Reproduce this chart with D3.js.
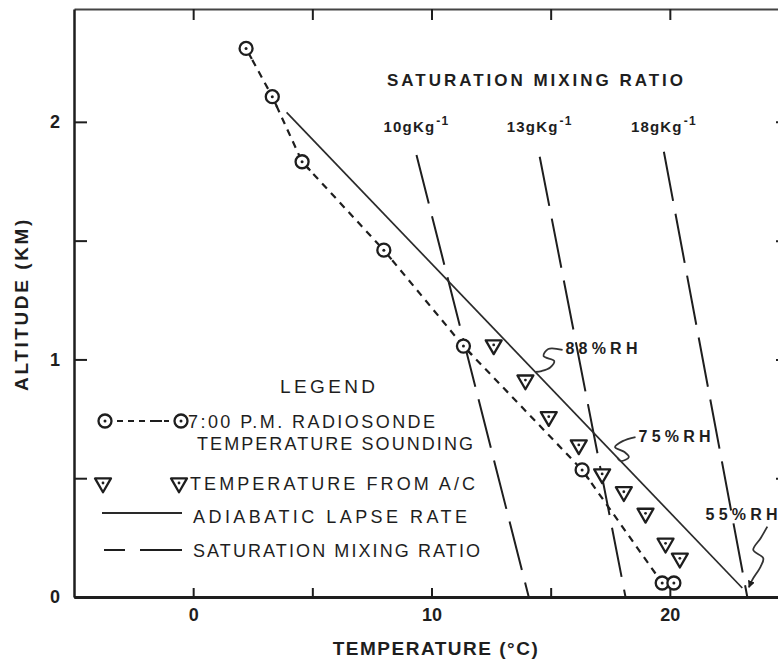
<!DOCTYPE html>
<html>
<head>
<meta charset="utf-8">
<script src="https://cdn.jsdelivr.net/npm/d3@7"></script>
<style>
body { margin: 0; background: #fff; }
svg { display: block; font-family: "Liberation Sans", Arial, sans-serif; }
</style>
</head>
<body>
<div id="chart"></div>
<script>
// 7:00 P.M. radiosonde temperature sounding (deg C, km)
var soundingTemp = [2.22, 3.32, 4.57, 8.00, 11.34, 16.32, 19.68, 20.17];
var soundingAlt  = [2.309, 2.106, 1.832, 1.460, 1.056, 0.535, 0.059, 0.059];

// Temperature from the aircraft (A/C)
var aircraftTemp = [12.61, 13.94, 14.92, 16.18, 17.16, 18.07, 18.98, 19.82, 20.42];
var aircraftAlt  = [1.061, 0.913, 0.759, 0.640, 0.518, 0.443, 0.352, 0.226, 0.163];

// Adiabatic lapse rate (end points)
var adiabatTemp = [3.92, 23.04];
var adiabatAlt  = [2.040, 0.038];

// Saturation mixing ratio lines, g/kg
var mixingValues     = ["10", "13", "18"];
var mixingTopTemp    = [9.37, 14.54, 19.75];
var mixingTopAlt     = [1.860, 1.853, 1.874];
var mixingBottomTemp = [14.08, 18.14, 23.25];

// Relative humidity notes: label and the squiggle leading to the lapse-rate line
var rhLabels    = ["88%RH", "75%RH", "55%RH"];
var rhLabelTemp = [15.62, 18.69, 21.50];
var rhLabelAlt  = [1.023, 0.652, 0.324];
var rhPathTemp  = [
    [15.50, 14.90, 14.70, 15.15, 14.98, 14.62, 14.36],
    [18.56, 18.02, 17.70, 18.10, 18.28, 17.95, 17.80],
    [24.09, 23.81, 23.50, 23.92, 23.81, 23.46, 23.32]
];
var rhPathAlt   = [
    [1.040, 1.044, 1.014, 0.993, 0.966, 0.951, 0.947],
    [0.673, 0.656, 0.631, 0.610, 0.589, 0.572, 0.585],
    [0.296, 0.247, 0.198, 0.163, 0.128, 0.072, 0.041]
];

// Axis ticks
var tempTicks = [0, 5, 10, 15, 20];
var altTicks  = [0, 0.5, 1, 1.5, 2];

var width = 778, height = 660;
var ink = "#1e1e1e";

var svg = d3.select("#chart").append("svg")
    .attr("width", width)
    .attr("height", height);
svg.append("rect").attr("width", width).attr("height", height).attr("fill", "#fff");

var x = d3.scaleLinear().domain([-5, 25]).range([74, 789]);
var y = d3.scaleLinear().domain([0, 2.475]).range([597, 9]);

// Axes: ticks point inward on all four sides.
var tempLabel = function(d) { return d % 10 === 0 ? d : ""; };
var altLabel = function(d) { return Number.isInteger(d) ? d : ""; };

var axisB = svg.append("g").attr("class", "axis x")
    .attr("transform", "translate(0," + y(0) + ")")
    .call(d3.axisBottom(x).tickValues(tempTicks).tickSizeInner(-9).tickSizeOuter(0)
        .tickPadding(11).tickFormat(tempLabel));
var axisT = svg.append("g").attr("class", "axis x top")
    .attr("transform", "translate(0," + y(2.475) + ")")
    .call(d3.axisTop(x).tickValues(tempTicks).tickSizeInner(-11).tickSizeOuter(0).tickFormat(""));
var axisL = svg.append("g").attr("class", "axis y")
    .attr("transform", "translate(" + x(-5) + ",0)")
    .call(d3.axisLeft(y).tickValues(altTicks).tickSizeInner(-13).tickSizeOuter(0)
        .tickPadding(14).tickFormat(altLabel));
var axisR = svg.append("g").attr("class", "axis y right")
    .attr("transform", "translate(" + x(25) + ",0)")
    .call(d3.axisRight(y).tickValues(altTicks.slice(1)).tickSizeInner(-13).tickSizeOuter(0).tickFormat(""));

svg.selectAll(".axis .domain").attr("stroke", ink).attr("stroke-width", 2.5);
axisB.select(".domain").attr("stroke-width", 3.2);
axisT.select(".domain").attr("stroke", "#444").attr("stroke-width", 2);
svg.selectAll(".axis .tick line").attr("stroke", ink).attr("stroke-width", 2);
svg.selectAll(".axis text")
    .attr("font-family", "'Liberation Sans', Arial, sans-serif")
    .attr("font-size", 18).attr("font-weight", "bold").attr("fill", ink);

// Axis titles
svg.append("text")
    .attr("x", 436).attr("y", 655)
    .attr("text-anchor", "middle")
    .attr("font-size", 19).attr("font-weight", "bold").attr("fill", ink)
    .attr("letter-spacing", 1.5)
    .text("TEMPERATURE (°C)");
svg.append("text")
    .attr("transform", "translate(28,304) rotate(-90)")
    .attr("text-anchor", "middle")
    .attr("font-size", 19).attr("font-weight", "bold").attr("fill", ink)
    .attr("letter-spacing", 2.6)
    .text("ALTITUDE (KM)");

var line = d3.line()
    .x(function(d) { return x(d.t); })
    .y(function(d) { return y(d.a); });

// Saturation mixing ratio lines
var mixing = mixingValues.map(function(v, i) {
    return { v: v, pts: [{t: mixingTopTemp[i], a: mixingTopAlt[i]}, {t: mixingBottomTemp[i], a: 0}] };
});
svg.append("g").selectAll("path").data(mixing).enter().append("path")
    .attr("d", function(d) { return line(d.pts); })
    .attr("fill", "none").attr("stroke", ink).attr("stroke-width", 2)
    .attr("stroke-dasharray", "50,13");

var mixLab = svg.append("g").selectAll("text").data(mixing).enter().append("text")
    .attr("x", function(d) { return x(d.pts[0].t) - 33; })
    .attr("y", 132)
    .attr("font-size", 15).attr("font-weight", "bold").attr("fill", ink)
    .attr("letter-spacing", 1.2);
mixLab.append("tspan").text(function(d) { return d.v + "gKg"; });
mixLab.append("tspan").attr("dy", -7).attr("dx", 1).attr("font-size", 12).text("-1");

svg.append("text")
    .attr("x", 387).attr("y", 86)
    .attr("font-size", 17).attr("font-weight", "bold").attr("fill", ink)
    .attr("textLength", 296).attr("lengthAdjust", "spacing")
    .text("SATURATION MIXING RATIO");

// Adiabatic lapse rate
var adiabat = adiabatTemp.map(function(t, i) { return {t: t, a: adiabatAlt[i]}; });
svg.append("path").datum(adiabat)
    .attr("d", line)
    .attr("fill", "none").attr("stroke", "#2a2a2a").attr("stroke-width", 1.7);

// Radiosonde sounding
var sounding = soundingTemp.map(function(t, i) { return {t: t, a: soundingAlt[i]}; });
svg.append("path").datum(sounding)
    .attr("d", line)
    .attr("fill", "none").attr("stroke", ink).attr("stroke-width", 2.2)
    .attr("stroke-dasharray", "7,6");

function drawCircleMark(g, cx, cy, tail) {
    if (tail) {
        g.append("line")
            .attr("x1", cx).attr("y1", cy)
            .attr("x2", cx + tail[0] * 12).attr("y2", cy + tail[1] * 12)
            .attr("stroke", ink).attr("stroke-width", 2.2);
    }
    g.append("circle").attr("cx", cx).attr("cy", cy).attr("r", 6.5)
        .attr("fill", "#fff").attr("stroke", ink).attr("stroke-width", 2.3);
    g.append("circle").attr("cx", cx).attr("cy", cy).attr("r", 1.5).attr("fill", ink);
}

var soundG = svg.append("g");
sounding.forEach(function(d, i) {
    var tail = null;
    var nxt = sounding[i + 1];
    if (nxt && i < sounding.length - 2) {
        var dx = x(nxt.t) - x(d.t), dy = y(nxt.a) - y(d.a);
        var len = Math.sqrt(dx * dx + dy * dy);
        tail = [dx / len, dy / len];
    }
    drawCircleMark(soundG, x(d.t), y(d.a), tail);
});

// Aircraft temperatures
var tri = d3.symbol().type(d3.symbolTriangle).size(110);
function drawTriangleMark(g, cx, cy) {
    g.append("path").attr("d", tri)
        .attr("transform", "translate(" + cx + "," + cy + ") rotate(180)")
        .attr("fill", "#fff").attr("stroke", ink).attr("stroke-width", 2.3)
        .attr("stroke-linejoin", "round");
    g.append("circle").attr("cx", cx).attr("cy", cy).attr("r", 1.4).attr("fill", ink);
}
var aircraft = aircraftTemp.map(function(t, i) { return {t: t, a: aircraftAlt[i]}; });
var airG = svg.append("g");
aircraft.forEach(function(d) { drawTriangleMark(airG, x(d.t), y(d.a)); });

// Relative humidity notes
svg.append("defs").append("marker")
    .attr("id", "arrow").attr("viewBox", "0 0 10 10")
    .attr("refX", 9).attr("refY", 5)
    .attr("markerWidth", 4).attr("markerHeight", 4)
    .attr("orient", "auto")
    .append("path").attr("d", "M0,0 L10,5 L0,10 Z").attr("fill", ink);

var squiggle = d3.line()
    .x(function(d) { return x(d.t); })
    .y(function(d) { return y(d.a); })
    .curve(d3.curveCatmullRom);

rhLabels.forEach(function(lab, i) {
    var pts = rhPathTemp[i].map(function(t, j) { return {t: t, a: rhPathAlt[i][j]}; });
    var p = svg.append("path").datum(pts)
        .attr("d", squiggle)
        .attr("fill", "none").attr("stroke", "#333").attr("stroke-width", 1.8);
    if (i === 2) p.attr("marker-end", "url(#arrow)");
    svg.append("text")
        .attr("x", x(rhLabelTemp[i])).attr("y", y(rhLabelAlt[i]))
        .attr("font-size", 16).attr("font-weight", "bold").attr("fill", ink)
        .attr("textLength", 72).attr("lengthAdjust", "spacing")
        .text(lab);
});

// Legend
var leg = svg.append("g").attr("class", "legend");
function legendText(tx, ty, len, str, size) {
    leg.append("text")
        .attr("x", tx).attr("y", ty)
        .attr("font-size", size || 18).attr("fill", ink)
        .attr("textLength", len).attr("lengthAdjust", "spacing")
        .text(str);
}
legendText(280, 393, 95, "LEGEND", 19);

leg.append("line").attr("x1", 110).attr("x2", 176).attr("y1", 421).attr("y2", 421)
    .attr("stroke", ink).attr("stroke-width", 2.2).attr("stroke-dasharray", "2,5,6,5,6,5,6,5,12");
drawCircleMark(leg, 105, 421, null);
drawCircleMark(leg, 181, 421, null);
legendText(188, 428, 247, "7:00 P.M. RADIOSONDE");
legendText(197, 450, 276, "TEMPERATURE SOUNDING");

drawTriangleMark(leg, 103, 483);
drawTriangleMark(leg, 179, 483);
legendText(190, 490, 285, "TEMPERATURE FROM A/C");

leg.append("line").attr("x1", 102).attr("x2", 182).attr("y1", 513).attr("y2", 513)
    .attr("stroke", "#2a2a2a").attr("stroke-width", 1.8);
legendText(193, 523, 274, "ADIABATIC LAPSE RATE");

leg.append("line").attr("x1", 104).attr("x2", 182).attr("y1", 550).attr("y2", 550)
    .attr("stroke", ink).attr("stroke-width", 2).attr("stroke-dasharray", "21,15,42");
legendText(193, 557, 287, "SATURATION MIXING RATIO");
</script>
</body>
</html>
